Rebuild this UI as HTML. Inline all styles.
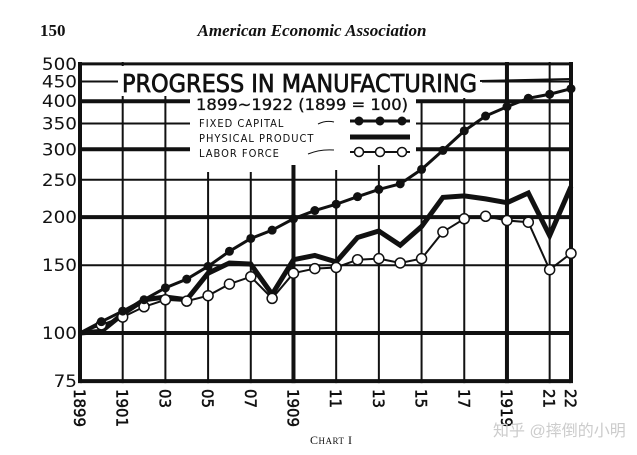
<!DOCTYPE html>
<html><head><meta charset="utf-8"><style>
body{margin:0;background:#fff;}
svg{display:block;}
.ax{font-family:"DejaVu Sans Condensed","Liberation Sans Narrow","Liberation Sans",sans-serif;fill:#111;}
</style></head><body>
<svg width="637" height="455" viewBox="0 0 637 455">
<text x="40" y="36" font-family="Liberation Serif,serif" font-weight="bold" font-size="17" fill="#111">150</text>
<text x="312" y="36" text-anchor="middle" font-family="Liberation Serif,serif" font-style="italic" font-weight="bold" font-size="17" fill="#111">American Economic Association</text>
<g id="grid"></g>
<g id="ylab"></g>
<g id="xlab"></g>
<g id="series"></g>
<g>
<rect x="118" y="66" width="364" height="30" fill="#fff"/>
<rect x="190" y="96" width="226" height="64" fill="#fff"/>
<text x="122" y="92" class="ax" font-size="25" stroke="#111" stroke-width="0.7" textLength="355" lengthAdjust="spacingAndGlyphs">PROGRESS IN MANUFACTURING</text>
<line x1="480" y1="81" x2="571" y2="79" stroke="#111" stroke-width="2"/>
<text x="196" y="110" class="ax" font-size="16" stroke="#111" stroke-width="0.3" textLength="212" lengthAdjust="spacingAndGlyphs">1899~1922  (1899 = 100)</text>
<text x="199" y="127" class="ax" font-size="11" letter-spacing="1">FIXED  CAPITAL</text>
<text x="199" y="142" class="ax" font-size="11" letter-spacing="1">PHYSICAL  PRODUCT</text>
<text x="199" y="157" class="ax" font-size="11" letter-spacing="1">LABOR  FORCE</text>
<path d="M318 124 q8 -4 16 -2" stroke="#111" fill="none" stroke-width="1"/>
<path d="M308 154 q12 -5 26 -4" stroke="#111" fill="none" stroke-width="1"/>
<g>
<line x1="350" y1="121" x2="410" y2="121" stroke="#111" stroke-width="3"/>
<circle cx="359" cy="121" r="4.5" fill="#111"/><circle cx="380" cy="121" r="4.5" fill="#111"/><circle cx="402" cy="121" r="4.5" fill="#111"/></g>
<line x1="350" y1="137" x2="410" y2="137" stroke="#111" stroke-width="5"/>
<g>
<line x1="350" y1="152" x2="410" y2="152" stroke="#111" stroke-width="2"/>
<circle cx="359" cy="152" r="4.5" fill="#fff" stroke="#111" stroke-width="1.5"/><circle cx="380" cy="152" r="4.5" fill="#fff" stroke="#111" stroke-width="1.5"/><circle cx="402" cy="152" r="4.5" fill="#fff" stroke="#111" stroke-width="1.5"/></g>
</g>
<text x="310" y="444" font-family="Liberation Serif,serif" font-size="12" fill="#111" letter-spacing="0.5">C<tspan font-size="9">HART</tspan> I</text>
<text x="493" y="436" font-family="Liberation Sans,Noto Sans CJK SC,sans-serif" font-size="16" fill="#ccc">知乎 @摔倒的小明</text>
</svg>
<script>
const years=[1899,1900,1901,1902,1903,1904,1905,1906,1907,1908,1909,1910,1911,1912,1913,1914,1915,1916,1917,1918,1919,1920,1921,1922];
const capital=[100,107,114,122,131,138,149,163,176,185,198,208,216,226,236,244,266,298,335,366,387,407,417,431];
const product=[100,101,112,122,124,122,143,152,151,126,155,159,153,177,184,169,189,225,227,223,218,231,179,240];
const labor=[100,105,110,117,122,121,125,134,140,123,143,147,148,155,156,152,156,183,198,201,196,194,146,161];
const yTicks=[75,100,150,200,250,300,350,400,450,500];
const xTickLabels=["1899","1901","03","05","07","1909","11","13","15","17","1919","21","22"];
const xTickYears=[1899,1901,1903,1905,1907,1909,1911,1913,1915,1917,1919,1921,1922];
const NS="http://www.w3.org/2000/svg";
const X=y=>80+(y-1899)*(571-80)/23;
const Y=v=>333-385*Math.log10(v/100);
function mk(t,a,p){const e=document.createElementNS(NS,t);for(const k in a)e.setAttribute(k,a[k]);p.appendChild(e);return e;}
const grid=document.getElementById('grid');
const thick={100:4,200:4,300:4,400:4,75:4,500:3};
yTicks.forEach(v=>{
  const l=mk('line',{x1:80,x2:571,y1:Y(v),y2:Y(v),stroke:'#111','stroke-width':thick[v]||2},grid);
  
  
});
const topStart={1899:62,1901:62,1903:95,1905:172,1907:172,1909:165,1911:170,1913:165,1915:100,1917:98,1919:62,1921:62,1922:62};
xTickYears.forEach(yr=>{
  const w=(yr===1899)?4:(yr===1909||yr===1919||yr===1922)?4:2;
  const l=mk('line',{x1:X(yr),x2:X(yr),y1:topStart[yr],y2:Y(75)+2,stroke:'#111','stroke-width':w},grid);
  
  
});
const yl=document.getElementById('ylab');
yTicks.forEach(v=>{
  const s=String(v);
  const t=mk('text',{x:77,y:Y(v)+6,'text-anchor':'end','font-size':17,class:'ax',textLength:s.length*11.7,lengthAdjust:'spacingAndGlyphs'},yl);
  t.textContent=s;
  
  
});
const xl=document.getElementById('xlab');
xTickLabels.forEach((s,i)=>{
  const x=X(xTickYears[i]);
  const t=mk('text',{x:0,y:0,transform:`translate(${x-6},389) rotate(90)`,'font-size':16,class:'ax',stroke:'#111','stroke-width':0.5,textLength:s.length*9.5,lengthAdjust:'spacingAndGlyphs'},xl);
  t.textContent=s;
  
  
});
const sg=document.getElementById('series');
function line(vals,w,name){
  const p=mk('polyline',{points:vals.map((v,i)=>X(years[i])+','+Y(v)).join(' '),fill:'none',stroke:'#111','stroke-width':w,'stroke-linejoin':'miter'},sg);
  
  
}
line(product,5,'product-line');
line(labor,2,'labor-line');
line(capital,3,'capital-line');
labor.forEach((v,i)=>{if(i===0)return;
  const c=mk('circle',{cx:X(years[i]),cy:Y(v),r:5,fill:'#fff',stroke:'#111','stroke-width':1.5},sg);
  
  
});
capital.forEach((v,i)=>{if(i===0)return;
  const c=mk('circle',{cx:X(years[i]),cy:Y(v),r:4.5,fill:'#111'},sg);
  
  
});
</script>
</body></html>
